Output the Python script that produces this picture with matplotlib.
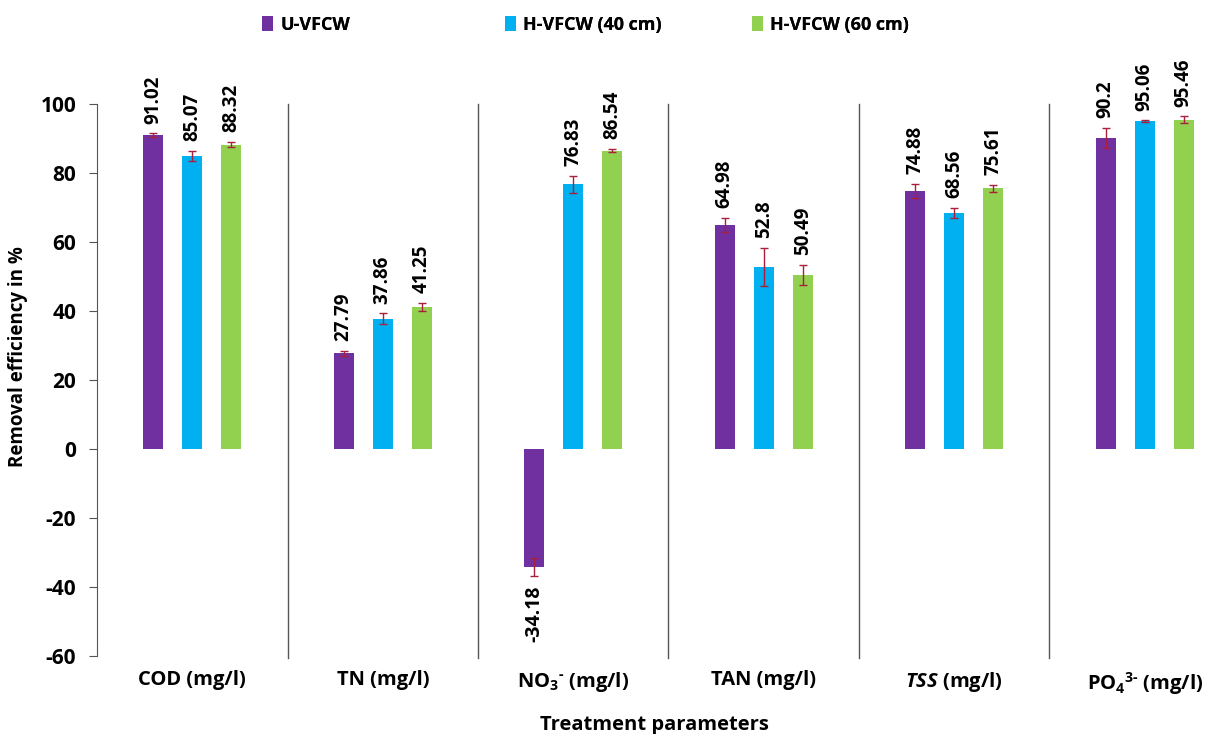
import matplotlib.pyplot as plt
import numpy as np

plt.rcParams['font.family'] = ['Open Sans', 'DejaVu Sans']
plt.rcParams['axes.unicode_minus'] = False
plt.rcParams['mathtext.fontset'] = 'custom'
plt.rcParams['mathtext.rm'] = 'Open Sans:bold'
plt.rcParams['mathtext.it'] = 'Open Sans:bold:italic'
plt.rcParams['mathtext.bf'] = 'Open Sans:bold'

params = ['COD (mg/l)', 'TN (mg/l)', r'NO$_3$$^{\text{-}}$ (mg/l)', 'TAN (mg/l)',
          r'$\mathit{TSS}$ (mg/l)', r'PO$_4$$^{\text{3-}}$ (mg/l)']
systems = ['U-VFCW', 'H-VFCW (40 cm)', 'H-VFCW (60 cm)']
colors = ['#7030A0', '#00B0F0', '#92D050']

u_vfcw = [91.02, 27.79, -34.18, 64.98, 74.88, 90.2]
h40 = [85.07, 37.86, 76.83, 52.8, 68.56, 95.06]
h60 = [88.32, 41.25, 86.54, 50.49, 75.61, 95.46]
u_err = [0.5, 0.8, 2.5, 2.0, 2.0, 3.0]
h40_err = [1.5, 1.5, 2.5, 5.5, 1.5, 0.3]
h60_err = [0.8, 1.2, 0.5, 3.0, 1.0, 1.0]

values = [u_vfcw, h40, h60]
errors = [u_err, h40_err, h60_err]

fig = plt.figure(figsize=(12.25, 7.34), dpi=100)
ax = fig.add_axes([0.0792, 0.106, 0.933, 0.752])

x = np.arange(len(params))
width = 0.105
offsets = [-0.205, 0, 0.205]

bars = []
for vals, errs, col, off, name in zip(values, errors, colors, offsets, systems):
    b = ax.bar(x + off, vals, width, color=col, label=name, zorder=2)
    bars.append(b)
    ax.errorbar(x + off, vals, yerr=errs, fmt='none', ecolor='#A8203C',
                elinewidth=1, capsize=3, capthick=1, zorder=3)
    for xi, v, e in zip(x + off, vals, errs):
        if v >= 0:
            ax.annotate(f'{v:g}', (xi, v + e), xytext=(0, 7), textcoords='offset points',
                        rotation=90, ha='center', va='bottom', fontsize=13.5, fontweight='bold')
        else:
            ax.annotate(f'{v:g}', (xi, v - e), xytext=(0, -7), textcoords='offset points',
                        rotation=90, ha='center', va='top', fontsize=14, fontweight='bold')

# category separators
for s in np.arange(0.5, len(params) - 0.5 + 1):
    ax.plot([s, s], [100, -60.5], color='#555555', lw=1, clip_on=False, zorder=1)

ax.set_xlim(-0.5, 5.5)
ax.set_ylim(-60, 100)
ax.set_yticks(np.arange(-60, 101, 20))
ax.tick_params(axis='y', labelsize=15, length=6, pad=9, direction='out', color='#555555')
for t in ax.get_yticklabels():
    t.set_fontweight('bold')
ax.spines['top'].set_visible(False)
ax.spines['right'].set_visible(False)
ax.spines['bottom'].set_visible(False)
ax.spines['left'].set_color('#555555')

ax.set_xticks(x)
ax.set_xticklabels(params, fontsize=14.5, fontweight='bold')
ax.tick_params(axis='x', length=0, pad=10)
ax.set_ylabel('Removal efficiency in %', fontsize=13.5, fontweight='bold')
ax.yaxis.set_label_coords(-0.06, 0.543)
ax.set_xlabel('Treatment parameters', fontsize=14.5, fontweight='bold')
ax.xaxis.set_label_coords(0.488, -0.107)

# legend entries on equal-width slots
for b, name, xpos in zip(bars, systems, [262, 505, 752]):
    leg = fig.legend([b], [name], loc='center left', bbox_to_anchor=(xpos / 1225, 1 - 25 / 734),
                     frameon=False, prop={'size': 13, 'weight': 'bold'}, handlelength=0.6,
                     handleheight=0.9, handletextpad=0.4, borderpad=0, borderaxespad=0)
    fig.add_artist(leg)

fig.savefig('out.png', dpi=100)
